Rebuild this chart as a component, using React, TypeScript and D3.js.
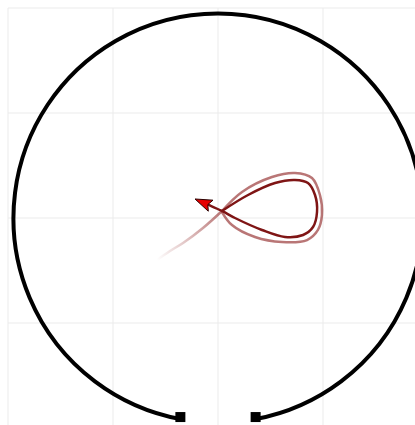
import React from "react";
import * as d3 from "d3";

// Grid ticks (data units)
const gridTicks = [-2, -1, 0, 1, 2];

// Circle track: radius and half-gap (degrees) around the bottom
const trackRadius = 1.948;
const trackGapDeg = 10.6;

// Trajectory trail (data units), ordered oldest -> newest
const tailPoints: [number, number][] = [
  [-0.581, -0.4], [-0.457, -0.314], [-0.333, -0.238], [-0.143, -0.095], [0.038, 0.067],
];
const outerLoop: [number, number][] = [
  [0.038, 0.067], [0.229, 0.248], [0.514, 0.39], [0.733, 0.429], [0.895, 0.381],
  [0.971, 0.219], [0.99, 0.029], [0.952, -0.114], [0.848, -0.21], [0.61, -0.229],
  [0.352, -0.181], [0.133, -0.067], [0.038, 0.057],
];
const innerLoop: [number, number][] = [
  [0.038, 0.067], [0.286, 0.219], [0.543, 0.333], [0.733, 0.362], [0.857, 0.333],
  [0.924, 0.219], [0.943, 0.057], [0.905, -0.086], [0.81, -0.162], [0.638, -0.181],
  [0.419, -0.114], [0.162, 0.0], [0.038, 0.067], [-0.086, 0.124], [-0.219, 0.181],
];

const W = 415;
const H = 425;

export default function App() {
  const x = d3.scaleLinear().domain([-2, 2]).range([8, 428]);
  const y = d3.scaleLinear().domain([2, -2]).range([8, 428]);
  const cx = x(0);
  const cy = y(0);
  const rPx = x(trackRadius) - x(0);

  const gap = (trackGapDeg * Math.PI) / 180;
  // angles measured in SVG space, 0 = +x, clockwise positive (y down); bottom = PI/2
  const a0 = Math.PI / 2 + gap;
  const a1 = Math.PI / 2 - gap + 2 * Math.PI;
  const p = d3.path();
  p.arc(cx, cy, rPx, a0, a1, false);
  const ends = [a0, a1].map((a) => [cx + rPx * Math.cos(a), cy + rPx * Math.sin(a)]);

  const line = d3
    .line<[number, number]>()
    .x((d) => x(d[0]))
    .y((d) => y(d[1]))
    .curve(d3.curveCatmullRom.alpha(0.5));

  // arrow head
  const tip = innerLoop[innerLoop.length - 1];
  const prev = innerLoop[innerLoop.length - 2];
  const tx = x(tip[0]);
  const ty = y(tip[1]);
  const dx = tx - x(prev[0]);
  const dy = ty - y(prev[1]);
  const len = Math.hypot(dx, dy);
  const ux = dx / len;
  const uy = dy / len;
  const aL = 17;
  const aW = 6;
  const bx = tx - ux * aL;
  const by = ty - uy * aL;
  const arrowPts = [
    [tx, ty],
    [bx - uy * aW, by + ux * aW],
    [bx + ux * 3, by + uy * 3],
    [bx + uy * aW, by - ux * aW],
  ];
  const innerLine = innerLoop.slice(0, innerLoop.length - 1).concat([[ (tip[0] + prev[0]) / 2 + (prev[0] - tip[0]) * 0.0, (tip[1] + prev[1]) / 2 ] as [number, number]]);

  const t0 = tailPoints[0];
  const t1 = tailPoints[tailPoints.length - 1];

  return (
    <svg
      width={W}
      height={H}
      style={{ position: "fixed", left: 0, top: 0, background: "#fff" }}
    >
      <defs>
        <linearGradient
          id="tailGrad"
          gradientUnits="userSpaceOnUse"
          x1={x(t0[0])}
          y1={y(t0[1])}
          x2={x(t1[0])}
          y2={y(t1[1])}
        >
          <stop offset="0" stopColor="#8b1a1a" stopOpacity={0} />
          <stop offset="1" stopColor="#8b1a1a" stopOpacity={0.6} />
        </linearGradient>
      </defs>
      <g>
        {gridTicks.map((t) => (
          <line key={"v" + t} x1={x(t)} x2={x(t)} y1={8} y2={428} stroke="#ebebeb" strokeWidth={1} />
        ))}
        {gridTicks.map((t) => (
          <line key={"h" + t} y1={y(t)} y2={y(t)} x1={8} x2={428} stroke="#ebebeb" strokeWidth={1} />
        ))}
      </g>
      <path d={p.toString()} fill="none" stroke="#000" strokeWidth={4} />
      {ends.map((e, i) => (
        <rect key={i} x={e[0] - 5} y={e[1] - 7} width={10} height={10} fill="#000" />
      ))}
      <path d={line(tailPoints) || ""} fill="none" stroke="url(#tailGrad)" strokeWidth={2.5} strokeLinecap="round" />
      <path d={line(outerLoop) || ""} fill="none" stroke="#8b1a1a" strokeOpacity={0.6} strokeWidth={2.5} />
      <path d={line(innerLine) || ""} fill="none" stroke="#7f1515" strokeWidth={2.5} />
      <polygon
        points={arrowPts.map((q) => q.join(",")).join(" ")}
        fill="#e60000"
        stroke="#2a0000"
        strokeWidth={1}
        strokeLinejoin="round"
      />
    </svg>
  );
}
